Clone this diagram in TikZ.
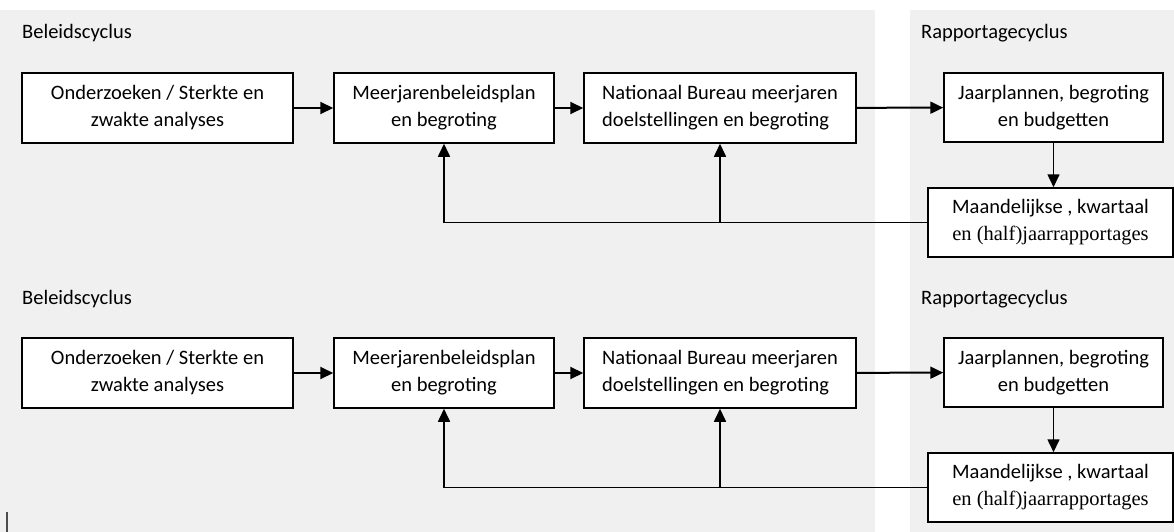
\documentclass[tikz,border=0pt]{standalone}
\usepackage{fontspec}
\setmainfont{Carlito}
\newfontfamily\timesfont{Liberation Serif}
\usetikzlibrary{arrows.meta,%
                positioning}

\tikzset{
  blok/.style={draw=black, line width=1.5pt, fill=white, inner sep=0pt,
    align=center, font=\fontsize{20.5}{27}\selectfont},
  kop/.style={anchor=base west, inner sep=0pt, font=\fontsize{20.5}{27}\selectfont},
  pijl/.style={line width=2pt, -{Triangle[length=13pt,width=12pt]}},
  terug/.style={pijl, line width=1.6pt},
}

\begin{document}
\begin{tikzpicture}[x=1pt,y=-1pt]
\useasboundingbox (0,0) rectangle (1174,532);
\fill[black!6] (0,10) rectangle (875,532);
\fill[black!6] (910,10) rectangle (1174,532);
\draw[black!70, line width=2pt] (7,512) -- (7,532);

% bovenste schema
\node[kop] (beleid1) at (22,39) {Beleidscyclus};
\node[kop] (rapkop1) at (921,39) {Rapportagecyclus};
\node[blok, minimum width=271pt, minimum height=70pt] (onderzoek1) at (157.5,108) {Onderzoeken / Sterkte en\\zwakte analyses};
\node[blok, minimum width=220pt, minimum height=70pt] (plan1) at (444,108) {Meerjarenbeleidsplan\\en begroting};
\node[blok, minimum width=272pt, minimum height=70pt, align=left] (bureau1) at (720,108) {Nationaal Bureau meerjaren\\doelstellingen en begroting};
\node[blok, minimum width=219pt, minimum height=69pt] (jaar1) at (1053.5,107.5) {Jaarplannen, begroting\\en budgetten};
\node[blok, minimum width=245pt, minimum height=69pt] (rapport1) at (1050.5,222.5) {Maandelijkse , kwartaal\\{\timesfont en (half)jaarrapportages}};
\coordinate (splits1) at (bureau1.south |- rapport1.west);

\draw[pijl] (onderzoek1) -- (plan1);
\draw[pijl] (plan1) -- (bureau1);
\draw[pijl] (bureau1) -- (jaar1);
\draw[pijl, line width=1.6pt] (jaar1.south) -- (jaar1.south |- rapport1.north);
\draw[terug] (rapport1) -| (plan1);
\draw[terug] (splits1) -- (bureau1);

% onderste schema
\node[kop] (beleid2) at (22,304) {Beleidscyclus};
\node[kop] (rapkop2) at (921,304) {Rapportagecyclus};
\node[blok, minimum width=271pt, minimum height=70pt] (onderzoek2) at (157.5,373) {Onderzoeken / Sterkte en\\zwakte analyses};
\node[blok, minimum width=220pt, minimum height=70pt] (plan2) at (444,373) {Meerjarenbeleidsplan\\en begroting};
\node[blok, minimum width=272pt, minimum height=70pt, align=left] (bureau2) at (720,373) {Nationaal Bureau meerjaren\\doelstellingen en begroting};
\node[blok, minimum width=219pt, minimum height=69pt] (jaar2) at (1053.5,372.5) {Jaarplannen, begroting\\en budgetten};
\node[blok, minimum width=245pt, minimum height=69pt] (rapport2) at (1050.5,487.5) {Maandelijkse , kwartaal\\{\timesfont en (half)jaarrapportages}};
\coordinate (splits2) at (bureau2.south |- rapport2.west);

\draw[pijl] (onderzoek2) -- (plan2);
\draw[pijl] (plan2) -- (bureau2);
\draw[pijl] (bureau2) -- (jaar2);
\draw[pijl, line width=1.6pt] (jaar2.south) -- (jaar2.south |- rapport2.north);
\draw[terug] (rapport2) -| (plan2);
\draw[terug] (splits2) -- (bureau2);
\end{tikzpicture}
\end{document}
